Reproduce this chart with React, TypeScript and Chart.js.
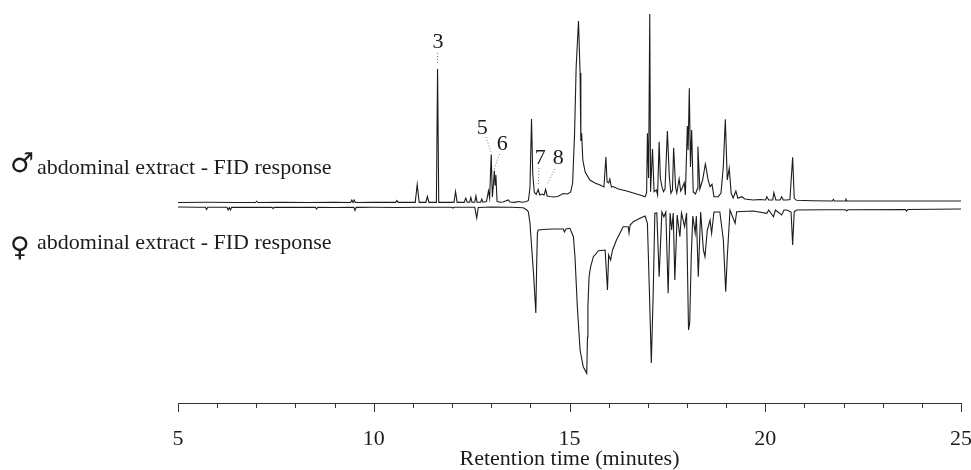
import React, { useEffect, useRef } from 'react';
import { Chart, registerables } from 'chart.js';
Chart.register(...registerables);

// Retention time (min) and detector response (arbitrary units).
const maleTrace: [number, number][] = [
  [5.0, 0.5], [5.8, 0.7], [6.5, 0.5], [6.98, 0.5], [7.01, 1.8], [7.04, 0.5], [7.6, 0.6], [8.3, 0.5], [9.0, 0.6],
  [9.41, 0.5], [9.44, 3], [9.47, 0.6], [9.5, 3], [9.53, 0.5], [10.0, 0.6], [10.56, 0.6], [10.59, 2.5], [10.62, 0.6],
  [11.06, 0.6], [11.11, 18.5], [11.16, 0.6], [11.33, 0.6], [11.37, 6.5], [11.41, 0.6], [11.6, 0.6], [11.63, 134],
  [11.66, 0.6], [12.05, 0.6], [12.09, 11.5], [12.13, 0.6], [12.31, 0.6], [12.35, 5], [12.39, 0.8], [12.45, 0.8],
  [12.48, 5.5], [12.51, 0.8], [12.58, 0.8], [12.61, 7], [12.64, 0.8], [12.73, 0.8], [12.76, 4], [12.79, 0.8],
  [12.88, 1.5], [12.93, 12], [12.96, 5], [13.0, 48.5], [13.03, 6], [13.06, 20], [13.08, 32.5], [13.1, 18],
  [13.12, 28], [13.15, 1.5], [13.25, 0.8], [13.3, 1], [13.44, 3], [13.48, 1], [13.6, 0.6], [13.7, 1.5], [13.8, 0.8],
  [13.9, 1.5], [13.95, 2.5], [13.99, 15], [14.03, 84], [14.06, 30], [14.1, 11], [14.15, 8.5], [14.2, 13.5],
  [14.24, 8], [14.3, 9], [14.35, 8], [14.39, 13.5], [14.43, 7], [14.5, 6.5], [14.6, 6], [14.7, 6.5], [14.84, 9.5],
  [14.95, 9], [15.03, 11], [15.08, 20], [15.13, 70], [15.17, 136], [15.23, 182], [15.27, 130], [15.29, 62],
  [15.31, 70], [15.34, 43], [15.4, 31], [15.52, 23], [15.65, 20], [15.78, 18], [15.88, 16], [15.93, 46],
  [15.96, 21], [16.0, 20], [16.03, 24], [16.07, 16], [16.11, 16.5], [16.25, 14], [16.46, 12], [16.63, 10],
  [16.8, 8], [16.93, 6.3], [16.97, 10], [16.99, 69.7], [17.02, 25], [17.05, 189], [17.07, 11.3], [17.12, 54],
  [17.16, 11.3], [17.22, 13], [17.25, 8], [17.29, 61.3], [17.32, 25], [17.36, 16.3], [17.4, 11.3], [17.44, 14],
  [17.5, 72], [17.55, 26.3], [17.59, 9.7], [17.63, 13], [17.66, 55.3], [17.71, 16], [17.74, 10], [17.8, 24],
  [17.84, 12], [17.87, 14], [17.93, 20.3], [17.96, 8], [18.01, 77], [18.03, 53], [18.06, 114.7], [18.09, 36],
  [18.12, 73], [18.16, 11], [18.22, 9], [18.26, 14], [18.28, 56.5], [18.33, 14], [18.4, 23], [18.47, 39],
  [18.5, 33], [18.54, 23], [18.59, 16.3], [18.64, 18.7], [18.69, 6.3], [18.8, 6.3], [18.87, 10], [18.93, 37.3],
  [18.98, 83.7], [19.03, 23], [19.08, 34.7], [19.13, 9.7], [19.18, 5], [19.25, 12], [19.3, 4.7], [19.4, 6.3],
  [19.48, 4], [19.69, 3], [19.87, 3.5], [20.01, 3], [20.04, 6.3], [20.09, 3], [20.19, 3], [20.22, 10.3],
  [20.27, 3], [20.38, 3], [20.42, 6.3], [20.46, 3], [20.55, 3], [20.63, 3.5], [20.7, 45.7], [20.74, 4.7],
  [20.8, 2.7], [21.2, 2.3], [21.72, 2], [21.74, 3.7], [21.77, 2], [22.04, 2], [22.06, 3.7], [22.09, 2],
  [23.0, 2], [24.0, 2], [25.0, 2],
];

// Female response, plotted inverted below the male trace.
const femaleTrace: [number, number][] = [
  [5.0, 0], [5.5, 0.3], [5.7, 0.3], [5.73, 2.5], [5.76, 0.3], [6.0, 0.3], [6.25, 0.3], [6.28, 3], [6.31, 0.6],
  [6.34, 3], [6.37, 0.3], [6.9, 0.4], [7.4, 0.3], [7.43, 1.5], [7.46, 0.3], [8.0, 0.4], [8.51, 0.3], [8.54, 2],
  [8.57, 0.3], [9.0, 0.5], [9.49, 0.4], [9.52, 3.5], [9.55, 0.4], [10.0, 0.3], [10.6, 0.5], [11.2, 0.3],
  [11.99, 0.3], [12.02, 1], [12.05, 0.3], [12.58, 0.3], [12.63, 11], [12.67, 0.5], [13.0, 0], [13.5, 0.3],
  [13.82, 0.8], [13.91, 3], [13.95, 5], [13.99, 16], [14.08, 66], [14.14, 106], [14.16, 60], [14.18, 26],
  [14.2, 23], [14.42, 22.3], [14.59, 22], [14.84, 22], [14.87, 25], [14.91, 22], [15.01, 21.3], [15.1, 29.7],
  [15.14, 49.7], [15.2, 99.7], [15.27, 143], [15.35, 159.7], [15.44, 166.3], [15.46, 130], [15.47, 99.7],
  [15.5, 69.7], [15.54, 59.7], [15.61, 49.7], [15.74, 43.7], [15.91, 43], [15.97, 83], [16.0, 48], [16.05, 53],
  [16.1, 43], [16.2, 33], [16.37, 19.7], [16.5, 19.7], [16.52, 26], [16.55, 18], [16.63, 14.7], [16.8, 11.3],
  [16.93, 9], [16.99, 16.3], [17.04, 83], [17.09, 156], [17.14, 83], [17.18, 6.3], [17.23, 6], [17.29, 69.7],
  [17.36, 5], [17.41, 9.7], [17.46, 5], [17.52, 86.3], [17.57, 6], [17.61, 23], [17.65, 6], [17.69, 73],
  [17.75, 8], [17.82, 29.7], [17.86, 6], [17.94, 19.7], [17.99, 6], [18.04, 123], [18.07, 116], [18.11, 49.7],
  [18.15, 9], [18.21, 26], [18.24, 9], [18.29, 69.7], [18.35, 5], [18.42, 43], [18.46, 49.7], [18.52, 23],
  [18.59, 13], [18.63, 26.3], [18.69, 5], [18.84, 5], [18.93, 33], [18.99, 84.7], [19.03, 49.7], [19.1, 3],
  [19.23, 16.3], [19.27, 4.7], [19.69, 4], [20.04, 6.3], [20.09, 3], [20.21, 9.7], [20.26, 3], [20.42, 8],
  [20.48, 3], [20.55, 3], [20.66, 5], [20.7, 38], [20.74, 4.7], [20.8, 3], [21.5, 2.7], [22.05, 2.7], [22.08, 4],
  [22.11, 2.7], [23.58, 2.5], [23.61, 4], [23.64, 2.5], [25.0, 2],
];

const xMin = 5;
const xMax = 25;
const majorEvery = 5;
const axisTitle = 'Retention time (minutes)';

const traceLabels = [
  { symbol: '♂', text: 'abdominal extract - FID response', level: 29 },
  { symbol: '♀', text: 'abdominal extract - FID response', level: -46 },
];

// Peak numbers: label position (t, level) and dotted leader from (t1,v1) to (t2,v2)
const peakLabels = [
  { text: '3', t: 11.64, v: 161, t1: 11.63, v1: 150, t2: 11.63, v2: 139 },
  { text: '5', t: 12.77, v: 75, t1: 12.87, v1: 66, t2: 12.99, v2: 51 },
  { text: '6', t: 13.28, v: 58.5, t1: 13.21, v1: 49, t2: 13.08, v2: 34 },
  { text: '7', t: 14.25, v: 45, t1: 14.22, v1: 35, t2: 14.2, v2: 19 },
  { text: '8', t: 14.71, v: 45, t1: 14.63, v1: 34, t2: 14.42, v2: 18 },
];

const femaleGap = 4;
const SERIF = '"Liberation Serif", "Times New Roman", serif';
const INK = '#1c1c1c';

const decorPlugin = {
  id: 'decor',
  afterDraw(chart: any) {
    const { ctx, chartArea, scales } = chart;
    const x = scales.x;
    const y = scales.y;
    ctx.save();
    // tick marks
    ctx.strokeStyle = '#333';
    ctx.lineWidth = 1;
    x.ticks.forEach((tk: any) => {
      const px = Math.round(x.getPixelForValue(tk.value)) + 0.5;
      const len = tk.value % majorEvery === 0 ? 9 : 5;
      ctx.beginPath();
      ctx.moveTo(px, chartArea.bottom);
      ctx.lineTo(px, chartArea.bottom + len);
      ctx.stroke();
    });
    // trace labels
    ctx.fillStyle = INK;
    ctx.textBaseline = 'alphabetic';
    ctx.textAlign = 'left';
    traceLabels.forEach((lb, i) => {
      const py = y.getPixelForValue(lb.level);
      ctx.font = 'bold 27px "DejaVu Sans", sans-serif';
      ctx.fillText(lb.symbol, 10, py + (i === 0 ? -2 : 7));
      ctx.font = '22px ' + SERIF;
      ctx.fillText(lb.text, 37, py);
    });
    // peak numbers
    ctx.textAlign = 'center';
    ctx.textBaseline = 'middle';
    ctx.font = '22px ' + SERIF;
    peakLabels.forEach((p) => {
      ctx.fillStyle = INK;
      ctx.fillText(p.text, x.getPixelForValue(p.t), y.getPixelForValue(p.v));
      ctx.save();
      ctx.setLineDash([1, 2]);
      ctx.strokeStyle = '#777';
      ctx.lineWidth = 1;
      ctx.beginPath();
      ctx.moveTo(x.getPixelForValue(p.t1), y.getPixelForValue(p.v1));
      ctx.lineTo(x.getPixelForValue(p.t2), y.getPixelForValue(p.v2));
      ctx.stroke();
      ctx.restore();
    });
    ctx.restore();
  },
};

export default function App() {
  const ref = useRef<HTMLCanvasElement>(null);
  useEffect(() => {
    if (!ref.current) return;
    const chart = new Chart(ref.current, {
      type: 'line',
      data: {
        datasets: [
          {
            label: 'male',
            data: maleTrace.map(([t, v]) => ({ x: t, y: v })),
            borderColor: INK,
            borderWidth: 1.1,
            pointRadius: 0,
            tension: 0,
            fill: false,
          },
          {
            label: 'female',
            data: femaleTrace.map(([t, v]) => ({ x: t, y: -(femaleGap + v) })),
            borderColor: INK,
            borderWidth: 1.1,
            pointRadius: 0,
            tension: 0,
            fill: false,
          },
        ],
      },
      options: {
        responsive: false,
        animation: false,
        devicePixelRatio: 1,
        layout: { padding: { left: 178, right: 10, top: 0, bottom: 0 } },
        plugins: { legend: { display: false }, tooltip: { enabled: false } },
        scales: {
          x: {
            type: 'linear',
            min: xMin,
            max: xMax,
            afterFit: (scale: any) => {
              scale.paddingLeft = 0;
              scale.paddingRight = 0;
              scale.height = 67;
            },
            border: { display: true, color: '#333', width: 1 },
            grid: { display: true, drawOnChartArea: false, drawTicks: true, tickLength: 9, color: 'rgba(0,0,0,0)' },
            ticks: {
              stepSize: 1,
              autoSkip: false,
              maxRotation: 0,
              minRotation: 0,
              padding: 16,
              color: INK,
              font: { family: SERIF, size: 22, lineHeight: 1 },
              callback: (v: any) => (Number(v) % majorEvery === 0 ? String(v) : ''),
            },
            title: {
              display: true,
              text: axisTitle,
              color: INK,
              font: { family: SERIF, size: 22, lineHeight: 1 },
              padding: { top: 0, bottom: 0 },
            },
          },
          y: { type: 'linear', display: false, min: -200, max: 203 },
        },
      },
      plugins: [decorPlugin],
    });
    return () => chart.destroy();
  }, []);
  return (
    <div style={{ position: 'fixed', left: 0, top: 0, width: 971, height: 470, background: '#fff' }}>
      <canvas ref={ref} width={971} height={470} style={{ display: 'block' }} />
    </div>
  );
}
